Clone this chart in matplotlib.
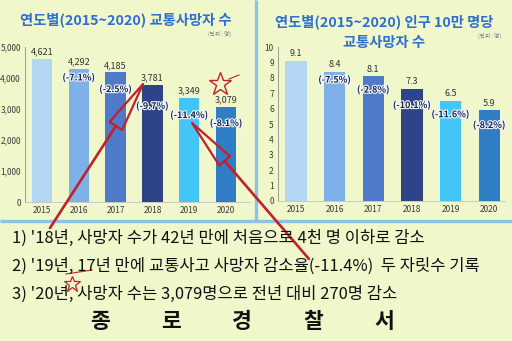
import matplotlib
matplotlib.use("Agg")
import matplotlib.pyplot as plt
import matplotlib.patheffects as pe
from matplotlib.patches import Polygon
import numpy as np

plt.rcParams['font.family'] = ['Noto Sans CJK KR', 'DejaVu Sans']

# ---------------- data ----------------
years = ['2015', '2016', '2017', '2018', '2019', '2020']
deaths = [4621, 4292, 4185, 3781, 3349, 3079]
deaths_labels = ['4,621', '4,292', '4,185', '3,781', '3,349', '3,079']
deaths_change = ['', '(-7.1%)', '(-2.5%)', '(-9.7%)', '(-11.4%)', '(-8.1%)']
rate = [9.1, 8.4, 8.1, 7.3, 6.5, 5.9]
rate_change = ['', '(-7.5%)', '(-2.8%)', '(-10.1%)', '(-11.6%)', '(-8.2%)']
left_yticks = [0, 1000, 2000, 3000, 4000, 5000]
left_yticklabels = ['0', '1,000', '2,000', '3,000', '4,000', '5,000']
right_yticks = list(range(0, 11))
title_left = '연도별(2015~2020) 교통사망자 수'
title_right = ['연도별(2015~2020) 인구 10만 명당', '교통사망자 수']
unit_text = '(단위 : 명)'
notes = ["1) '18년, 사망자 수가 42년 만에 처음으로 4천 명 이하로 감소",
         "2) '19년, 17년 만에 교통사고 사망자 감소율(-11.4%)  두 자릿수 기록",
         "3) '20년, 사망자 수는 3,079명으로 전년 대비 270명 감소"]
footer = ['종', '로', '경', '찰', '서']

bar_colors = ['#b3d6f5', '#7eb0ea', '#4f79c9', '#2f4388', '#43c6f7', '#2f7dc2']
bg = '#eff7cb'
sep = '#8dc3dc'
W, H = 512, 341

fig = plt.figure(figsize=(W / 100, H / 100), dpi=100, facecolor=bg)


def px_axes(x0, y0, x1, y1, **kw):
    # pixel box (top-left origin) -> figure axes
    return fig.add_axes([x0 / W, 1 - y1 / H, (x1 - x0) / W, (y1 - y0) / H], **kw)


def style(ax):
    ax.set_facecolor('none')
    for s in ['top', 'right']:
        ax.spines[s].set_visible(False)
    ax.spines['left'].set_color('#9a9a9a')
    ax.spines['left'].set_linewidth(0.7)
    ax.spines['bottom'].set_color('#c8c8c8')
    ax.spines['bottom'].set_linewidth(0.7)
    ax.tick_params(length=0, labelsize=6, colors='#3a3a3a', pad=3)


halo = [pe.withStroke(linewidth=1.6, foreground='#f4f8ff')]
x = np.arange(len(years))

# ---------------- left chart ----------------
axL = px_axes(25, 47, 250, 202)
style(axL)
axL.bar(x, deaths, width=0.55, color=bar_colors, zorder=2)
axL.set_xlim(-0.46, 5.65)
axL.set_ylim(0, 5000)
axL.set_yticks(left_yticks)
axL.set_yticklabels(left_yticklabels)
axL.set_xticks(x)
axL.set_xticklabels(years)
off_L = [0, 290, 560, 700, 560, 550]
for i, (v, lab, ch) in enumerate(zip(deaths, deaths_labels, deaths_change)):
    axL.annotate(lab, (i, v), xytext=(0, 5), textcoords='offset points',
                 ha='center', va='center', fontsize=6.5, color='#333333', zorder=5)
    if ch:
        axL.text(i, v - off_L[i], ch, ha='center', va='center', fontsize=6.5,
                 color='#18224c', fontweight='bold', path_effects=halo, zorder=5)

# ---------------- right chart ----------------
axR = px_axes(278, 47, 505, 201)
style(axR)
axR.bar(x, rate, width=0.55, color=bar_colors, zorder=2)
axR.set_xlim(-0.466, 5.41)
axR.set_ylim(0, 10)
axR.set_yticks(right_yticks)
axR.set_xticks(x)
axR.set_xticklabels(years)
off_R = [0, 0.55, 0.9, 1.1, 0.9, 1.0]
for i, (v, ch) in enumerate(zip(rate, rate_change)):
    axR.annotate(f'{v:.1f}', (i, v), xytext=(0, 5), textcoords='offset points',
                 ha='center', va='center', fontsize=6.5, color='#333333', zorder=5)
    if ch:
        axR.text(i, v - off_R[i], ch, ha='center', va='center', fontsize=6.5,
                 color='#18224c', fontweight='bold', path_effects=halo, zorder=5)

# ---------------- overlay (pixel coordinates) ----------------
ov = fig.add_axes([0, 0, 1, 1], zorder=10)
ov.set_xlim(0, W)
ov.set_ylim(H, 0)
ov.axis('off')
ov.patch.set_alpha(0)

# separators
ov.plot([255.5, 255.5], [0, 220], color=sep, lw=2.4, solid_capstyle='butt')
ov.plot([0, W], [221, 221], color=sep, lw=2.4, solid_capstyle='butt')

title_color = '#2f6fd3'
ov.text(126, 20, title_left, ha='center', va='center', fontsize=10.3,
        fontweight='bold', color=title_color)
ov.text(384, 22, title_right[0], ha='center', va='center', fontsize=10.3,
        fontweight='bold', color=title_color)
ov.text(384, 43, title_right[1], ha='center', va='center', fontsize=10.3,
        fontweight='bold', color=title_color)
ov.text(220, 34, unit_text, ha='center', va='center', fontsize=4, color='#777777')
ov.text(490, 36, unit_text, ha='center', va='center', fontsize=4, color='#777777')

for k, t in enumerate(notes):
    ov.text(12, [238, 266, 294][k], t, ha='left', va='center', fontsize=11.9,
            color='#111111')
for k, ch in enumerate(footer):
    ov.text(100 + k * 71, 322, ch, ha='center', va='center', fontsize=15.5,
            fontweight='bold', color='#111111')

# hand-drawn red annotations
red = '#c3202b'


def red_arrow(tail, tip, head_len, head_w):
    tail = np.array(tail, float)
    tip = np.array(tip, float)
    d = tip - tail
    d /= np.linalg.norm(d)
    n = np.array([-d[1], d[0]])
    base = tip - head_len * d
    ov.plot([tail[0], base[0]], [tail[1], base[1]], color=red, lw=1.9,
            solid_capstyle='round')
    tri = np.array([tip, base + n * head_w / 2, base - n * head_w / 2])
    ov.add_patch(Polygon(tri, closed=True, fill=False, edgecolor=red, lw=1.6,
                         joinstyle='round'))


red_arrow((50, 228), (143, 84), 50, 15)
red_arrow((309, 259), (192, 123), 50, 14)
ov.plot([220], [84], marker='*', markersize=17, markerfacecolor='none',
        markeredgecolor=red, markeredgewidth=1.0)
ov.plot([229, 239], [79, 75], color=red, lw=0.8)
ov.plot([72], [284], marker='*', markersize=12, markerfacecolor='none',
        markeredgecolor=red, markeredgewidth=0.9)
ov.plot([66, 92], [274, 270], color=red, lw=0.8)

fig.savefig('out.png', dpi=100, facecolor=bg)
